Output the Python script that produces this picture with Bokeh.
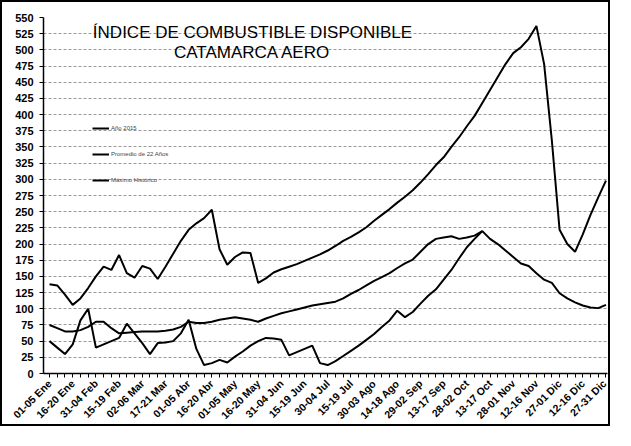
from math import pi
from bokeh.plotting import figure
from bokeh.models import FixedTicker, Legend, LegendItem, Label, Range1d
from bokeh.embed import file_html
from bokeh.resources import INLINE

nan = float("nan")

# tick labels (every third five-day period)
tick_labels = ["01-05 Ene", "16-20 Ene", "31-04 Feb", "15-19 Feb", "02-06 Mar",
               "17-21 Mar", "01-05 Abr", "16-20 Abr", "01-05 May", "16-20 May",
               "31-04 Jun", "15-19 Jun", "30-04 Jul", "15-19 Jul", "30-03 Ago",
               "14-18 Ago", "29-02 Sep", "13-17 Sep", "28-02 Oct", "13-17 Oct",
               "28-01 Nov", "12-16 Nov", "27-01 Dic", "12-16 Dic", "27-31 Dic"]

maximo = [138, 136, 122, 106, 116, 132, 150, 165, 160, 183,
          155, 148, 166, 162, 146, 165, 185, 205, 222, 232,
          240, 253, 192, 168, 180, 187, 186, 140, 147, 156,
          161, 165, 169, 174, 179, 184, 190, 197, 205, 211,
          218, 226, 236, 245, 254, 264, 273, 283, 295, 308,
          322, 334, 350, 365, 382, 398, 418, 438, 458, 478,
          495, 504, 517, 537, 478, 360, 222, 200, 188, 215,
          245, 272, 298]

promedio = [75, 70, 65, 65, 67, 72, 80, 80, 70, 62,
            63, 64, 65, 65, 65, 66, 68, 72, 80, 78,
            78, 80, 83, 85, 87, 85, 83, 80, 85, 89,
            93, 96, 99, 102, 105, 107, 109, 111, 116, 123,
            129, 136, 143, 149, 155, 163, 170, 176, 188, 200,
            208, 210, 212, 208, 210, 213, 220, 208, 200, 190,
            180, 170, 166, 155, 145, 140, 124, 116, 110, 105,
            102, 101, 106]

anio_2015 = [50, 40, 30, 45, 82, 100, 40, 45, 50, 55,
             77, 62, 47, 30, 47, 48, 50, 62, 83, 38,
             13, 16, 21, 17, 26, 34, 43, 50, 55, 54,
             52, 28, 33, 38, 43, 16, 13, 19, 27, 35,
             43, 52, 61, 72, 82, 97, 87, 95, 108, 120,
             130, 145, 160, 178, 195, 208, 220,
             nan, nan, nan, nan, nan, nan, nan, nan, nan, nan,
             nan, nan, nan, nan, nan, nan]

x = list(range(len(maximo)))

FONT = "Liberation Sans"

p = figure(width=610, height=426, output_backend="svg", toolbar_location=None,
           x_range=Range1d(-0.78, 72.2), y_range=Range1d(0, 550),
           min_border_left=41, min_border_right=5, min_border_top=15,
           min_border_bottom=53)
p.styles = {"border": "2px solid black"}
p.outline_line_color = None
p.background_fill_color = "white"
p.border_fill_color = "white"

r_anio = p.line(x, anio_2015, line_color="black", line_width=2)
r_prom = p.line(x, promedio, line_color="black", line_width=2)
r_max = p.line(x, maximo, line_color="black", line_width=2)

# x axis
label_pos = list(range(0, len(maximo), 3))
overrides = {i: "" for i in x}
for pos, lab in zip(label_pos, tick_labels):
    overrides[pos] = lab
p.xaxis.ticker = FixedTicker(ticks=x)
p.xaxis.major_label_overrides = overrides
p.xaxis.major_label_orientation = pi / 4
p.xaxis.major_label_text_font = FONT
p.xaxis.major_label_text_font_size = "10.5px"
p.xaxis.major_label_text_font_style = "bold"
p.xaxis.major_label_text_color = "black"
p.xaxis.major_tick_in = 0
p.xaxis.major_tick_out = 4
p.xaxis.minor_tick_line_color = None
p.xaxis.axis_line_color = "black"
p.xaxis.axis_line_width = 1.5
p.xaxis.major_label_standoff = 4

# y axis
p.yaxis.ticker = FixedTicker(ticks=list(range(0, 551, 25)))
p.yaxis.major_label_text_font = FONT
p.yaxis.major_label_text_font_size = "11px"
p.yaxis.major_label_text_font_style = "bold"
p.yaxis.major_label_text_color = "black"
p.yaxis.major_tick_in = 0
p.yaxis.major_tick_out = 4
p.yaxis.minor_tick_line_color = None
p.yaxis.axis_line_color = "black"
p.yaxis.axis_line_width = 1.5
p.yaxis.major_label_standoff = 6

p.xgrid.grid_line_color = None
p.ygrid.grid_line_color = "#9a9a9a"
p.ygrid.grid_line_dash = "3 2"
p.ygrid.grid_line_width = 1

legend = Legend(items=[LegendItem(label="Año 2015", renderers=[r_anio]),
                       LegendItem(label="Promedio de 22 Años", renderers=[r_prom]),
                       LegendItem(label="Máximo Histórico", renderers=[r_max])],
                location=(49, 189), orientation="vertical",
                background_fill_alpha=0, border_line_alpha=0,
                label_text_font=FONT, label_text_font_size="6px",
                glyph_width=17, glyph_height=8, label_height=8, spacing=18,
                padding=0, margin=0, label_standoff=2)
p.add_layout(legend)

p.add_layout(Label(x=209, y=341, x_units="screen", y_units="screen",
                   text="ÍNDICE DE COMBUSTIBLE DISPONIBLE", text_align="center",
                   text_baseline="middle", text_font=FONT, text_font_size="17px",
                   text_color="black"))
p.add_layout(Label(x=209, y=321, x_units="screen", y_units="screen",
                   text="CATAMARCA AERO", text_align="center",
                   text_baseline="middle", text_font=FONT, text_font_size="17px",
                   text_color="black"))

open("out.html", "w").write(file_html(p, INLINE))
